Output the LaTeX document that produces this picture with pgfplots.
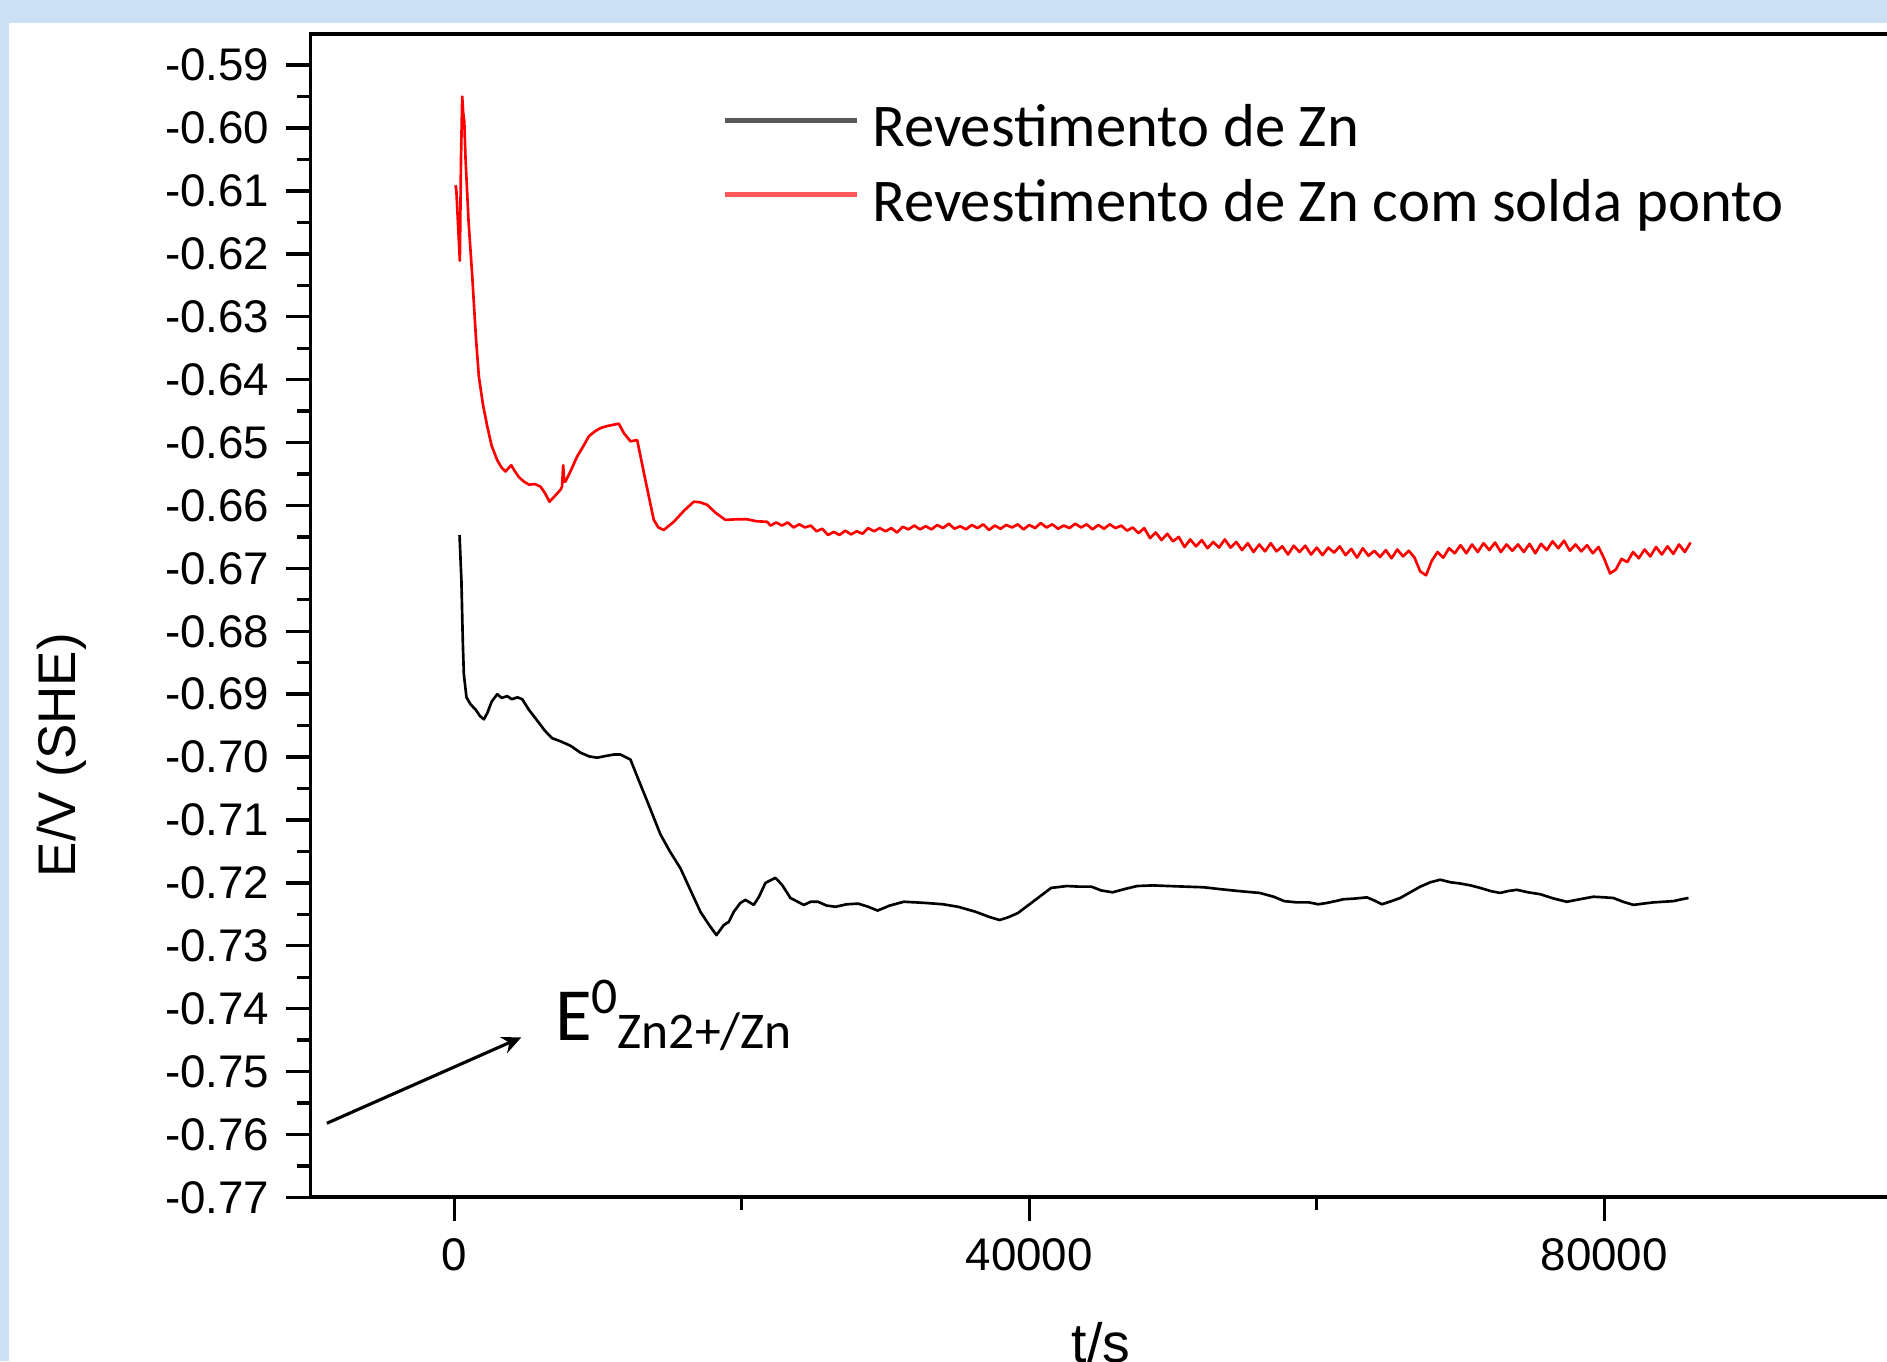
\documentclass[border=0pt]{standalone}
\usepackage{fontspec}
\setmainfont{Liberation Sans}
\newfontfamily\calibri{Carlito}
\usepackage{pgfplots}
\pgfplotsset{compat=1.18}
\usetikzlibrary{arrows.meta}

\definecolor{bgblue}{RGB}{203,224,244}
\definecolor{znred}{RGB}{255,0,0}

% open circuit potential vs time, two samples
\pgfplotstableread{
t E
369 -0.6647
500 -0.6720
600 -0.6820
668 -0.6868
850 -0.6905
1133 -0.6916
1500 -0.6925
1800 -0.6935
2060 -0.6940
2300 -0.6930
2600 -0.6912
2990 -0.6900
3300 -0.6906
3686 -0.6903
4000 -0.6908
4400 -0.6905
4729 -0.6908
5200 -0.6925
5772 -0.6942
6300 -0.6958
6815 -0.6970
7400 -0.6975
8088 -0.6982
8783 -0.6993
9400 -0.6999
9944 -0.7001
10600 -0.6998
11100 -0.6996
11565 -0.6996
12260 -0.7004
12800 -0.7035
13421 -0.7070
14347 -0.7123
15000 -0.7150
15738 -0.7177
16400 -0.7210
17128 -0.7246
17700 -0.7266
18241 -0.7283
18751 -0.7267
19100 -0.7262
19444 -0.7246
19900 -0.7232
20257 -0.7227
20834 -0.7235
21200 -0.7222
21648 -0.7200
22343 -0.7192
22800 -0.7203
23386 -0.7224
24311 -0.7235
24800 -0.7230
25299 -0.7230
25900 -0.7236
26523 -0.7238
27300 -0.7234
28108 -0.7233
28800 -0.7238
29450 -0.7244
30300 -0.7236
31279 -0.7230
32100 -0.7231
32865 -0.7232
34000 -0.7234
35055 -0.7238
36279 -0.7246
37200 -0.7254
37935 -0.7259
38500 -0.7255
39207 -0.7248
40424 -0.7227
41523 -0.7208
42622 -0.7205
43500 -0.7206
44326 -0.7206
45000 -0.7212
45793 -0.7215
46600 -0.7210
47497 -0.7205
48600 -0.7204
49695 -0.7205
50900 -0.7206
52136 -0.7207
53300 -0.7210
54570 -0.7213
56037 -0.7216
57000 -0.7222
57741 -0.7229
58600 -0.7231
59452 -0.7231
60100 -0.7234
60669 -0.7232
61300 -0.7229
61863 -0.7226
62600 -0.7225
63490 -0.7223
64000 -0.7228
64533 -0.7234
65200 -0.7229
65805 -0.7224
66500 -0.7215
67197 -0.7206
67900 -0.7199
68587 -0.7195
69300 -0.7199
69978 -0.7201
70700 -0.7204
71369 -0.7208
72100 -0.7213
72760 -0.7216
73300 -0.7213
73920 -0.7211
74700 -0.7215
75540 -0.7218
76500 -0.7225
77396 -0.7230
78300 -0.7226
79250 -0.7222
80000 -0.7223
80640 -0.7224
81300 -0.7230
82030 -0.7235
82700 -0.7233
83420 -0.7231
84100 -0.7230
84810 -0.7229
85400 -0.7226
85855 -0.7224
}\zn

\pgfplotstableread{
t E
90 -0.6091
150 -0.6100
390 -0.6211
470 -0.6050
556 -0.5950
620 -0.5975
700 -0.5990
786 -0.6049
1000 -0.6150
1252 -0.6235
1500 -0.6330
1711 -0.6395
2000 -0.6440
2295 -0.6474
2600 -0.6505
2990 -0.6528
3300 -0.6540
3567 -0.6546
3800 -0.6540
3964 -0.6536
4200 -0.6545
4500 -0.6555
4843 -0.6562
5200 -0.6567
5600 -0.6566
6001 -0.6570
6300 -0.6580
6627 -0.6594
7000 -0.6585
7392 -0.6575
7500 -0.6570
7578 -0.6536
7650 -0.6562
7740 -0.6562
8100 -0.6545
8553 -0.6522
9000 -0.6505
9362 -0.6490
9800 -0.6482
10174 -0.6477
10600 -0.6474
11000 -0.6472
11447 -0.6470
11800 -0.6485
12260 -0.6498
12726 -0.6496
13300 -0.6560
13880 -0.6623
14200 -0.6635
14576 -0.6639
15271 -0.6626
16000 -0.6608
16662 -0.6594
17100 -0.6595
17594 -0.6599
18200 -0.6612
18866 -0.6623
19600 -0.6622
20375 -0.6622
21000 -0.6625
21766 -0.6626
22000 -0.6632
22400 -0.6627
22800 -0.6632
23200 -0.6627
23600 -0.6635
24000 -0.6630
24400 -0.6635
24800 -0.6632
25200 -0.6641
25600 -0.6637
26000 -0.6647
26400 -0.6642
26800 -0.6647
27200 -0.6640
27600 -0.6646
28000 -0.6641
28400 -0.6645
28800 -0.6636
29200 -0.6641
29600 -0.6636
30000 -0.6641
30400 -0.6636
30800 -0.6643
31200 -0.6634
31600 -0.6638
32000 -0.6632
32400 -0.6638
32800 -0.6633
33200 -0.6638
33600 -0.6631
34000 -0.6636
34400 -0.6629
34800 -0.6637
35200 -0.6633
35600 -0.6638
36000 -0.6631
36400 -0.6636
36800 -0.6630
37200 -0.6639
37600 -0.6632
38000 -0.6637
38400 -0.6631
38800 -0.6635
39200 -0.6630
39600 -0.6638
40000 -0.6631
40400 -0.6636
40800 -0.6628
41200 -0.6635
41600 -0.6630
42000 -0.6637
42400 -0.6632
42800 -0.6636
43200 -0.6629
43600 -0.6635
44000 -0.6630
44400 -0.6638
44800 -0.6631
45200 -0.6637
45600 -0.6630
46000 -0.6636
46400 -0.6632
46800 -0.6640
47200 -0.6635
47600 -0.6644
48000 -0.6636
48400 -0.6652
48800 -0.6643
49200 -0.6655
49600 -0.6645
50000 -0.6657
50400 -0.6650
50800 -0.6666
51200 -0.6654
51600 -0.6665
52000 -0.6655
52400 -0.6668
52800 -0.6658
53200 -0.6667
53600 -0.6654
54000 -0.6667
54400 -0.6658
54800 -0.6671
55200 -0.6660
55600 -0.6674
56000 -0.6662
56400 -0.6673
56800 -0.6660
57200 -0.6673
57600 -0.6665
58000 -0.6678
58400 -0.6664
58800 -0.6674
59200 -0.6664
59600 -0.6678
60000 -0.6667
60400 -0.6679
60800 -0.6667
61200 -0.6675
61600 -0.6665
62000 -0.6679
62400 -0.6669
62800 -0.6683
63200 -0.6668
63600 -0.6680
64000 -0.6672
64400 -0.6682
64800 -0.6671
65200 -0.6684
65600 -0.6670
66000 -0.6681
66400 -0.6672
66800 -0.6683
67200 -0.6705
67600 -0.6711
68000 -0.6688
68400 -0.6674
68800 -0.6683
69200 -0.6668
69600 -0.6676
70000 -0.6663
70400 -0.6676
70800 -0.6662
71200 -0.6674
71600 -0.6660
72000 -0.6671
72400 -0.6659
72800 -0.6674
73200 -0.6662
73600 -0.6672
74000 -0.6662
74400 -0.6674
74800 -0.6661
75200 -0.6676
75600 -0.6661
76000 -0.6671
76400 -0.6657
76800 -0.6668
77200 -0.6656
77600 -0.6672
78000 -0.6662
78400 -0.6673
78800 -0.6663
79200 -0.6676
79600 -0.6666
80000 -0.6685
80400 -0.6708
80800 -0.6702
81200 -0.6685
81600 -0.6690
82000 -0.6674
82400 -0.6684
82800 -0.6670
83200 -0.6681
83600 -0.6666
84000 -0.6678
84400 -0.6665
84800 -0.6677
85200 -0.6662
85600 -0.6674
86000 -0.6659
}\znsolda

\begin{document}
\begin{tikzpicture}
\path[use as bounding box] (0,0) rectangle (392pt,-282.75pt);
\fill[bgblue] (0,0) rectangle (392pt,-282.75pt);
\fill[white] (1.9pt,-4.7pt) rectangle (393pt,-283pt);
\begin{axis}[
  scale only axis, width=328.5pt, height=241.75pt,
  at={(64.5pt,-248.75pt)}, anchor=south west,
  xmin=-10000, xmax=100000, ymin=-0.77, ymax=-0.585,
  xtick={0,40000,80000}, minor xtick={20000,60000},
  ytick={-0.77,-0.76,-0.75,-0.74,-0.73,-0.72,-0.71,-0.70,-0.69,-0.68,-0.67,-0.66,-0.65,-0.64,-0.63,-0.62,-0.61,-0.60,-0.59},
  minor y tick num=1,
  scaled x ticks=false, scaled y ticks=false,
  tick pos=left, tick align=outside,
  major tick length=5pt, minor tick length=2.7pt,
  every tick/.style={black, line width=0.7pt},
  axis line style={line width=0.8pt},
  /pgf/number format/assume math mode=true,
  tick label style={font=\fontsize{9.5}{9.5}\selectfont},
  yticklabel style={/pgf/number format/.cd, fixed, fixed zerofill, precision=2},
  xticklabel style={/pgf/number format/.cd, set thousands separator={}},
  every axis y label/.style={at={(axis description cs:-0.1575,0.38)}, rotate=90, anchor=center, font=\fontsize{11}{11}\selectfont},
  every axis x label/.style={at={(axis description cs:0.5,0)}, anchor=north, inner sep=0pt, yshift=-25.75pt, font=\fontsize{11.5}{11.5}\selectfont},
  xlabel={t/s}, ylabel={E/V (SHE)},
  every axis plot/.append style={line width=0.55pt, line join=round},
]
\addplot[black] table[x=t, y=E] {\zn};
\addplot[znred] table[x=t, y=E] {\znsolda};
\end{axis}
% legend
\draw[black!65, line width=1.1pt] (150.6pt,-25.1pt) -- (178pt,-25.1pt);
\draw[znred!65, line width=1.1pt] (150.6pt,-40.4pt) -- (178pt,-40.4pt);
\node[anchor=base west, inner sep=0pt, font=\calibri\fontsize{12.6}{12.6}\selectfont] at (181pt,-30.5pt) {Revestimento de Zn};
\node[anchor=base west, inner sep=0pt, font=\calibri\fontsize{12.6}{12.6}\selectfont] at (181pt,-46.05pt) {Revestimento de Zn com solda ponto};
% standard potential marker
\draw[line width=0.65pt, -{Stealth[length=4pt, width=3.6pt]}] (67.9pt,-233.35pt) -- (108.3pt,-215.5pt);
\node[anchor=base west, inner sep=0pt, font=\calibri] at (115.1pt,-216.05pt)
  {\fontsize{15.6}{16}\selectfont E\fontsize{10.7}{11}\selectfont\raisebox{5.5pt}{0}\raisebox{-1.75pt}{Zn2+/Zn}};
\end{tikzpicture}
\end{document}
